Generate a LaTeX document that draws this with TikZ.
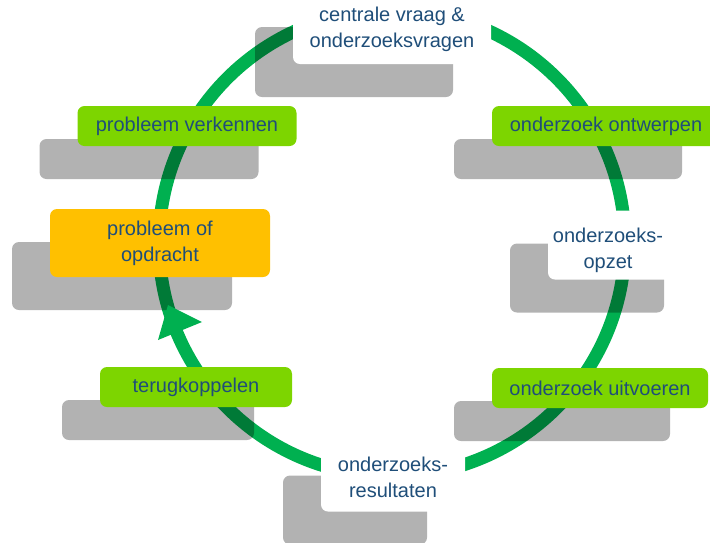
\documentclass[tikz,border=0pt]{standalone}
\usepackage{fontspec}
\setmainfont{Liberation Sans}
\usepackage{tikz}
\usetikzlibrary{shadows}
\definecolor{ringgreen}{HTML}{00B050}
\definecolor{boxgreen}{HTML}{7DD500}
\definecolor{boxorange}{HTML}{FFC000}
\definecolor{txtblue}{HTML}{1F4E79}

\begin{document}
\begin{tikzpicture}[x=1pt,y=-1pt,
			stepcard/.style={rounded corners=7pt, inner sep=0pt, minimum height=40pt, align=center, text=txtblue, font=\fontsize{20}{26}\selectfont, drop shadow={shadow xshift=-38pt, shadow yshift=-33pt, fill=black, opacity=.3}},
			greenbox/.style={stepcard, fill=boxgreen},
			orangebox/.style={stepcard, fill=boxorange},
			whitebox/.style={stepcard, fill=white},
			cardtext/.style={align=center, text=txtblue, font=\fontsize{20}{26}\selectfont},
			ring/.style={ringgreen, line width=13pt}]
			\useasboundingbox (0,0) rectangle (710,542);
			\clip (0,0) rectangle (710,542);
			% cycle
			\coordinate (ctr) at (392,243);
			\draw[ring] (ctr) circle[radius=233pt];
			% steps
			\node[whitebox, minimum width=198pt, minimum height=70pt] (vraag) at (392,29) {centrale vraag \&\\onderzoeksvragen};
			\node[greenbox, minimum width=219pt] (verkennen) at (187,126) {probleem verkennen};
			\node[orangebox, minimum width=220pt, minimum height=68pt] (opdracht) at (160,243) {probleem of\\opdracht};
			\node[greenbox, minimum width=228pt] (ontwerpen) at (606,126) {onderzoek ontwerpen};
			\node[whitebox, minimum width=154pt, minimum height=69pt] (opzetbox) at (625,245) {};
			\node[cardtext] (opzet) at (608,250) {onderzoeks-\\opzet};
			\node[greenbox, minimum width=216pt] (uitvoeren) at (600,388) {onderzoek uitvoeren};
			\node[greenbox, minimum width=192pt] (terug) at (196,387) {terugkoppelen};
			\node[whitebox, minimum width=144pt, minimum height=69pt] (resultaten) at (393,477) {onderzoeks-\\resultaten};
			% arrow head
			\fill[ringgreen] (168,305) -- (202,322) -- (158,340) -- cycle;
		\end{tikzpicture}
\end{document}
